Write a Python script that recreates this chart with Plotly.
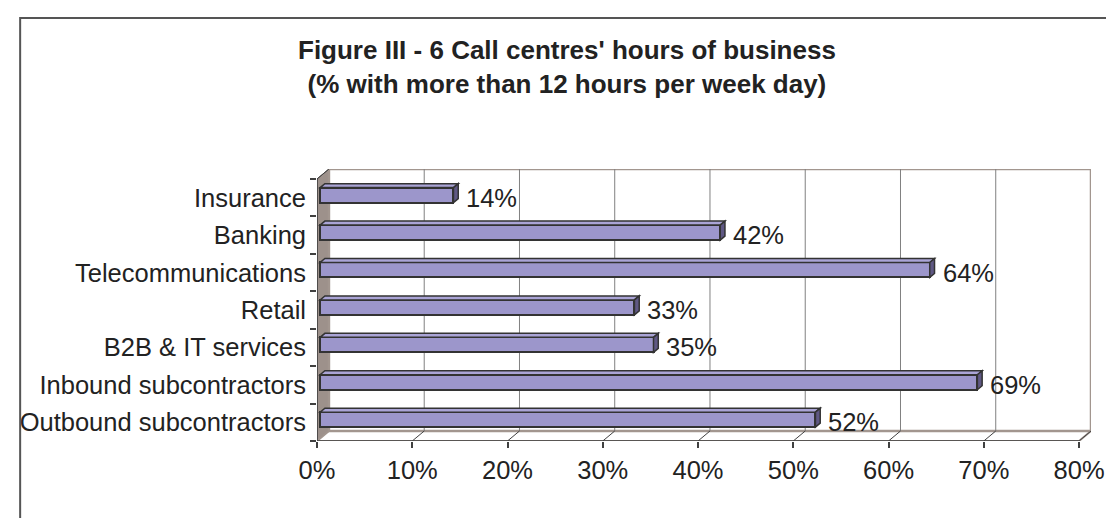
import plotly.graph_objects as go

# ---- data ----
categories = ["Outbound subcontractors", "Inbound subcontractors", "B2B & IT services",
              "Retail", "Telecommunications", "Banking", "Insurance"]
values = [52, 69, 35, 33, 64, 42, 14]
x_ticks = [0, 10, 20, 30, 40, 50, 60, 70, 80]
x_tick_labels = [f"{v}%" for v in x_ticks]
title_lines = ["Figure III - 6 Call centres' hours of business",
               "(% with more than 12 hours per week day)"]

# ---- geometry / style ----
W, H = 1114, 518
PL, PR, PT, PB = 306, 1083, 161, 433          # plot area pixels
XMAX = 80
DX = 1.255                                     # depth offset in x data units
DY = 0.267                                     # depth offset in y data units
FRONT = 0.26                                   # bar front depth fraction
DEPTH = 0.40                                   # bar depth fraction
BW = 0.40                                      # bar width (category units)
FONT = "Liberation Sans, Arial, sans-serif"
FS = 25.5

bar_face = "#9c96cb"
bar_top = "#aaa4d6"
bar_end = "#5f5884"
bar_line = "#333333"
wall_line = "#a2968f"
side_fill = "#9d918b"
grid_col = "#808080"

ypos = list(range(len(categories)))
ymin, ymax = -0.5, len(categories) - 0.5

fig = go.Figure()

shapes = []
# side wall
shapes.append(dict(type="path", xref="x", yref="y", layer="below",
                   path=f"M 0,{ymin} L {DX},{ymin+DY} L {DX},{ymax+DY} L 0,{ymax} Z",
                   fillcolor=side_fill, line=dict(color="#5a5250", width=1)))
# floor
shapes.append(dict(type="path", xref="x", yref="y", layer="below",
                   path=f"M 0,{ymin} L {XMAX},{ymin} L {XMAX+DX},{ymin+DY} L {DX},{ymin+DY} Z",
                   fillcolor="#ffffff", line=dict(color=wall_line, width=2)))
# back wall
shapes.append(dict(type="rect", xref="x", yref="y", layer="below",
                   x0=DX, x1=XMAX + DX, y0=ymin + DY, y1=ymax + DY,
                   fillcolor="#ffffff", line=dict(color=wall_line, width=2.5)))
# back gridlines + floor diagonals
for t in x_ticks[1:]:
    if t < XMAX:
        shapes.append(dict(type="line", xref="x", yref="y", layer="below",
                           x0=t + DX, x1=t + DX, y0=ymin + DY, y1=ymax + DY,
                           line=dict(color=grid_col, width=1)))
    shapes.append(dict(type="line", xref="x", yref="y", layer="below",
                       x0=t, x1=t + DX, y0=ymin, y1=ymin + DY,
                       line=dict(color="#404040", width=1)))
# front axes
shapes.append(dict(type="line", xref="x", yref="y", x0=0, x1=XMAX, y0=ymin, y1=ymin,
                   line=dict(color="#404040", width=1.5)))
shapes.append(dict(type="line", xref="x", yref="y", x0=0, x1=0, y0=ymin, y1=ymax,
                   line=dict(color="#404040", width=1.5)))
shapes.append(dict(type="line", xref="x", yref="y", x0=0, x1=DX, y0=ymax, y1=ymax + DY,
                   line=dict(color="#404040", width=1)))

# bars 3D faces
base = FRONT * DX
ddx, ddy = DEPTH * DX, DEPTH * DY
for k, v in zip(ypos, values):
    yc = k + FRONT * DY
    y0, y1 = yc - BW / 2, yc + BW / 2
    xe = base + v
    shapes.append(dict(type="path", xref="x", yref="y", layer="above",
                       path=f"M {base},{y1} L {xe},{y1} L {xe+ddx},{y1+ddy} L {base+ddx},{y1+ddy} Z",
                       fillcolor=bar_top, line=dict(color=bar_line, width=1.5)))
    shapes.append(dict(type="path", xref="x", yref="y", layer="above",
                       path=f"M {xe},{y0} L {xe},{y1} L {xe+ddx},{y1+ddy} L {xe+ddx},{y0+ddy} Z",
                       fillcolor=bar_end, line=dict(color=bar_line, width=1.5)))

fig.add_trace(go.Bar(
    y=[k + FRONT * DY for k in ypos], x=values, base=[base] * len(values),
    orientation="h", width=BW,
    marker=dict(color=bar_face, line=dict(color=bar_line, width=2)),
    hoverinfo="skip", showlegend=False))

annotations = []
for k, v in zip(ypos, values):
    annotations.append(dict(x=base + v + ddx, y=k, xref="x", yref="y",
                            text=f"{v}%", showarrow=False, xanchor="left", yanchor="middle",
                            xshift=6, font=dict(family=FONT, size=FS, color="#222222")))

# title
pw, ph = PR - PL, PB - PT
annotations.append(dict(x=(W / 2 - PL) / pw, y=(PB - 59) / ph, xref="paper", yref="paper",
                        text="<b>" + "<br>".join(title_lines) + "</b>", showarrow=False,
                        xanchor="center", yanchor="middle", align="center",
                        font=dict(family=FONT, size=26, color="#222222")))

# outer chart border (left and top visible)
shapes.append(dict(type="rect", xref="paper", yref="paper",
                   x0=(8 - PL) / pw, x1=(W + 20 - PL) / pw,
                   y0=(PB - (H + 20)) / ph, y1=(PB - 10) / ph,
                   fillcolor="rgba(0,0,0,0)", line=dict(color="#555555", width=2)))

fig.update_layout(
    width=W, height=H,
    margin=dict(l=PL, r=W - PR, t=PT, b=H - PB, pad=0),
    paper_bgcolor="white", plot_bgcolor="rgba(0,0,0,0)",
    shapes=shapes, annotations=annotations,
    font=dict(family=FONT, size=FS, color="#222222"),
    bargap=0,
    xaxis=dict(range=[0, XMAX + DX], tickvals=x_ticks, ticktext=x_tick_labels,
               showgrid=False, zeroline=False, showline=False,
               ticks="outside", ticklen=6, tickcolor="#404040", tickwidth=1.5,
               tickfont=dict(family=FONT, size=FS, color="#222222")),
    yaxis=dict(range=[ymin, ymax + DY], tickvals=ypos, ticktext=categories,
               showgrid=False, zeroline=False, showline=False, ticks="",
               ticklabelstandoff=10,
               minor=dict(tick0=-0.5, dtick=1, ticks="outside", ticklen=6,
                          tickcolor="#404040", tickwidth=1.5, showgrid=False),
               tickfont=dict(family=FONT, size=FS, color="#222222")),
)

fig.write_html("out.html")
